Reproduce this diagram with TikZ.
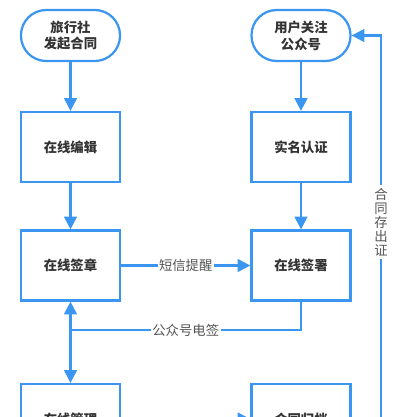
\documentclass[tikz,border=0pt]{standalone}
\usepackage{fontspec}
\setmainfont{Noto Sans CJK SC}
\usetikzlibrary{arrows.meta}
\definecolor{flowblue}{RGB}{58,150,240}
\definecolor{boxtext}{RGB}{51,51,51}
\definecolor{labeltext}{RGB}{85,85,85}
\tikzset{
	box/.style={draw=flowblue,line width=1.6pt,minimum width=2.475cm,minimum height=1.75cm,
		font=\bfseries\fontsize{9.5}{12}\selectfont,text=boxtext,align=center,inner sep=0pt},
	startbox/.style={box,minimum height=1.275cm,rounded corners=0.63cm},
	flow/.style={draw=flowblue,line width=1.6pt,-{Triangle[length=3.2mm,width=3.2mm]}},
	tag/.style={fill=white,text=labeltext,font=\fontsize{9.5}{10}\selectfont,inner sep=1pt}
}
\begin{document}
\begin{tikzpicture}[x=0.025cm,y=-0.025cm]
	\useasboundingbox (0,0) rectangle (400,417);
	% start nodes
	\node[startbox] (agency) at (70.5,35.5) {旅行社\\发起合同};
	\node[startbox] (follow) at (301,35.5) {用户关注\\公众号};
	% steps
	\foreach \name/\x/\y/\txt in {edit/70.5/147/在线编辑,
							seal/70.5/265.5/在线签章,
							manage/70.5/419/在线管理,
							realname/301/147/实名认证,
							sign/301/265.5/在线签署,
							archive/301/419/合同归档}
		\node[box] (\name) at (\x,\y) {\txt};
	\draw[flow] (agency) -- (edit);
	\draw[flow] (edit) -- (seal);
	\draw[flow] (follow) -- (realname);
	\draw[flow] (realname) -- (sign);
	\draw[flow] (seal) -- node[tag] {短信提醒} (sign);
	\coordinate (split) at (70.5,330);
	\draw[draw=flowblue,line width=1.6pt] (sign.south) |- node[tag,pos=0.75] {公众号电签} (split);
	\draw[flow] (split) -- (seal);
	\draw[flow] (split) -- (manage);
	\draw[flow] (manage) -- (archive);
	\coordinate (loop) at (381,440);
	\draw[flow] (loop) |- (follow.east);
	\node[tag,align=center,inner sep=2pt] (deposit) at (381,222) {合\\同\\存\\出\\证};
\end{tikzpicture}
\end{document}
